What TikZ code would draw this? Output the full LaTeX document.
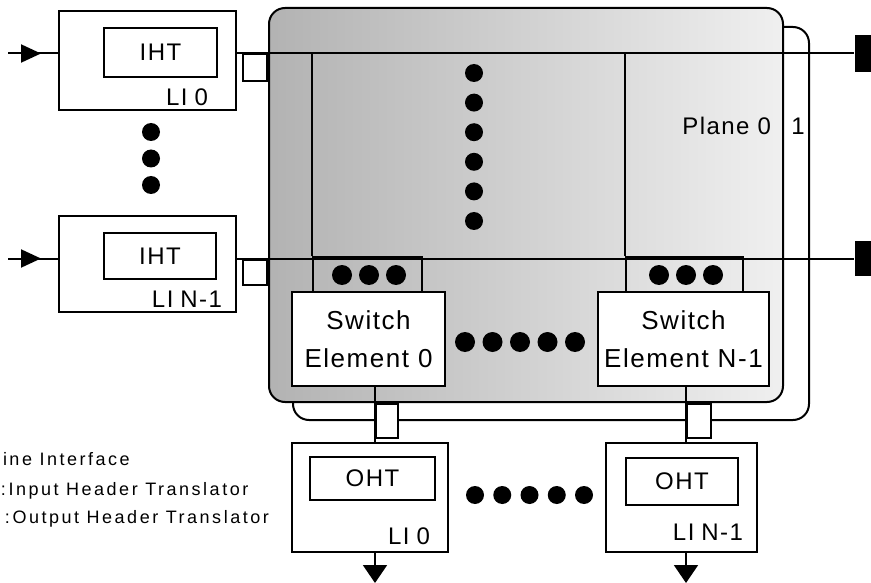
\documentclass[tikz,border=0pt]{standalone}
\usepackage{fontspec}
\setmainfont{Liberation Sans}[LetterSpace=6]
\newfontfamily\legendfont{Liberation Sans}[LetterSpace=14]
\usetikzlibrary{positioning,arrows.meta,decorations.markings}

\begin{document}
\begin{tikzpicture}[x=1pt,y=-1pt,line width=2pt,
  box/.style={draw,fill=white,inner sep=0pt},
  port/.style={draw,inner sep=0pt},
  lbl/.style={inner sep=0pt,font=\fontsize{24}{28}\selectfont},
  swlbl/.style={align=center,font=\fontsize{26}{38}\selectfont},
  legend/.style={inner sep=0pt,font=\legendfont\fontsize{18}{20}\selectfont},
  inarrow/.style={postaction={decorate},decoration={markings,
    mark=at position 0.66 with {\arrow{Triangle[length=20pt,width=18pt]}}}},
  outarrow/.style={-{Triangle[length=18pt,width=24pt]}}]
  \useasboundingbox (0,0) rectangle (871,583);
  \clip (0,0) rectangle (871,583);

  % planes 1 and 0
  \node[box,rounded corners=16pt,minimum width=516pt,minimum height=393pt] (pl1) at (551,223.5) {};
  \node[draw,rounded corners=16pt,minimum width=514pt,minimum height=394pt,
    left color=gray!60,right color=gray!12] (pl0) at (526,205) {};
  \node[lbl,anchor=base east] (pl0lbl) at (772,135) {Plane 0};
  \node[lbl,anchor=base] (pl1lbl) at (798,135) {1};

  % input line interfaces
  \node[box,minimum width=177pt,minimum height=99pt] (li0) at (147.5,60.5) {};
  \node[box,lbl,minimum width=113pt,minimum height=49pt] (iht0) at (160.5,52.5) {IHT};
  \node[lbl,anchor=base east] (li0lbl) at ([xshift=-28pt,yshift=5pt]li0.south east) {LI\hspace{7pt}0};
  \node[box,minimum width=177pt,minimum height=96pt] (lin) at (147.5,264) {};
  \node[box,lbl,minimum width=112pt,minimum height=46pt] (ihtn) at (160,256) {IHT};
  \node[lbl,anchor=base east] (linlbl) at ([xshift=-14pt,yshift=6pt]lin.south east) {LI\hspace{7pt}N-1};
  \foreach \i in {0,1,2}
    \fill (151,132+26.5*\i) circle (9pt);

  % terminals and buses
  \node[fill,inner sep=0pt,minimum width=16pt,minimum height=37pt] (t0) at (863,53.5) {};
  \node[fill,inner sep=0pt,minimum width=16pt,minimum height=34pt] (tn) at (863,258.5) {};
  \node[box,minimum width=24pt,minimum height=27pt,anchor=north east] (s0) at (pl0.west |- t0) {};
  \node[box,minimum width=24pt,minimum height=25pt,anchor=north east] (sn) at (pl0.west |- tn) {};
  \coordinate (i0) at (8,53.5);
  \coordinate (in) at (8,258.5);
  \draw[inarrow] (i0) -- (li0.west |- i0);
  \draw[inarrow] (in) -- (lin.west |- in);
  \draw (li0.east |- t0) -- (t0.west);
  \draw (lin.east |- tn) -- (tn.west);

  % ports and switch elements
  \node[port,minimum width=109pt,minimum height=35pt] (p0) at (367.5,274.5) {};
  \node[port,minimum width=117pt,minimum height=35pt] (pn) at (684.5,274.5) {};
  \draw (p0.north west) -- (p0.north west |- t0);
  \draw (pn.north west) -- (pn.north west |- t0);
  \foreach \i in {0,1,2} {
    \fill (342+27*\i,275) circle (10pt);
    \fill (659+27*\i,275) circle (10pt);
  }
  \foreach \i in {0,...,5}
    \fill (474,73+29.6*\i) circle (9pt);
  \node[box,swlbl,minimum width=153pt,minimum height=94pt] (sw0) at (368.5,339) {Switch\\Element 0};
  \node[box,swlbl,minimum width=171pt,minimum height=94pt] (swn) at (683.5,339) {Switch\\Element N-1};
  \foreach \i in {0,...,4}
    \fill (465+27.5*\i,342) circle (10pt);

  % output line interfaces
  \coordinate (b0) at (375,0);
  \coordinate (bn) at (686,0);
  \node[box,minimum width=22pt,minimum height=34pt,anchor=north west] (c0) at (b0 |- pl0.south) {};
  \node[box,minimum width=24pt,minimum height=34pt,anchor=north west] (cn) at (bn |- pl0.south) {};
  \node[box,minimum width=156pt,minimum height=109pt] (oli0) at (370,497.5) {};
  \node[box,lbl,minimum width=125pt,minimum height=43pt] (oht0) at (372.5,478.5) {OHT};
  \node[lbl,anchor=base east] (oli0lbl) at ([xshift=-18pt,yshift=9pt]oli0.south east) {LI\hspace{7pt}0};
  \node[box,minimum width=151pt,minimum height=109pt] (olin) at (681.5,497.5) {};
  \node[box,lbl,minimum width=112pt,minimum height=47pt] (ohtn) at (682,481.5) {OHT};
  \node[lbl,anchor=base east] (olinlbl) at ([xshift=-14pt,yshift=13pt]olin.south east) {LI\hspace{7pt}N-1};
  \draw (sw0.south -| b0) -- (oli0.north -| b0);
  \draw (swn.south -| bn) -- (olin.north -| bn);
  \coordinate (o0) at (375,583);
  \coordinate (on) at (686,583);
  \draw[outarrow] (oli0.south -| b0) -- (o0);
  \draw[outarrow] (olin.south -| bn) -- (on);
  \foreach \i in {0,...,4}
    \fill (475+27.25*\i,495) circle (9pt);

  % legend
  \node[legend,anchor=base west] (lg1) at (2,465) {ine Interface};
  \node[legend,anchor=base west] (lg2) at (0,495) {:Input Header Translator};
  \node[legend,anchor=base west] (lg3) at (4,523) {:Output Header Translator};
\end{tikzpicture}
\end{document}
